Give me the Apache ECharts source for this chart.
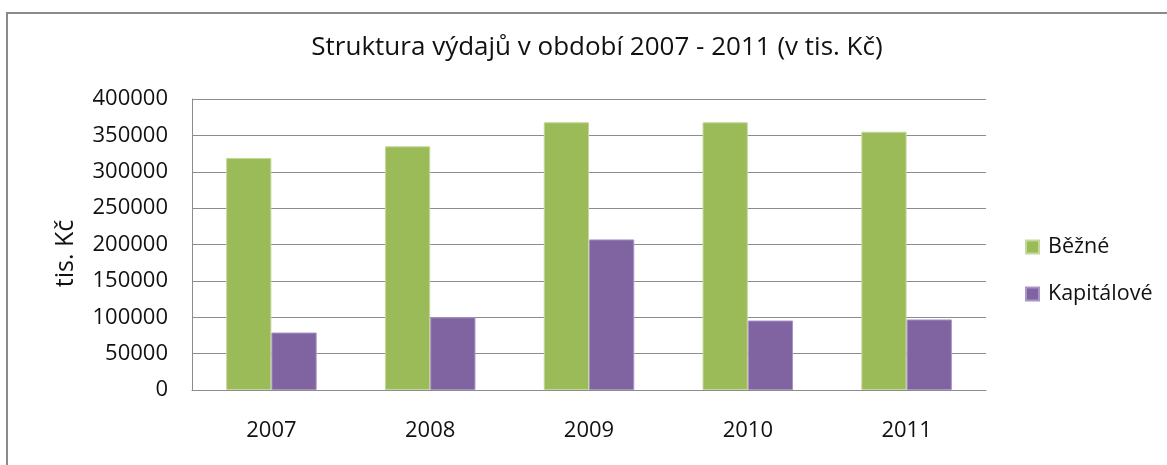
<!DOCTYPE html>
<html>
<head>
<meta charset="utf-8">
<script src="https://cdn.jsdelivr.net/npm/echarts@6/dist/echarts.min.js"></script>
<style>
  html, body { margin: 0; padding: 0; background: #fff; overflow: hidden; }
  #frame { position: absolute; left: 6px; top: 12px; width: 1200px; height: 500px;
           border-left: 2px solid #8a8a8a; border-top: 2px solid #8a8a8a; }
  #chart { position: absolute; left: 0; top: 0; width: 1167px; height: 465px; }
</style>
</head>
<body>
<div id="frame"></div>
<div id="chart"></div>
<script>
const years = ['2007', '2008', '2009', '2010', '2011']
const bezne = [319000, 335000, 368000, 368000, 355000]
const kapitalove = [79000, 100000, 207000, 95500, 97000]
const yTicks = { min: 0, max: 400000, interval: 50000 }

const font = "'Open Sans', 'Noto Sans', sans-serif"
const gridColor = '#8c8c8c'

const chart = echarts.init(document.getElementById('chart'))
chart.setOption({
  animation: false,
  textStyle: { fontFamily: font },
  title: {
    text: 'Struktura výdajů v období 2007 - 2011 (v tis. Kč)',
    left: 592,
    textAlign: 'center',
    top: 30,
    textStyle: { fontFamily: font, fontSize: 26, fontWeight: 'normal', color: '#111' }
  },
  legend: {
    orient: 'vertical',
    left: 1025,
    top: 234,
    padding: 0,
    itemWidth: 13,
    itemHeight: 13,
    itemGap: 21,
    icon: 'rect',
    textStyle: { fontFamily: font, fontSize: 21.5, color: '#111', lineHeight: 26, padding: [0, 0, 0, 4] },
    data: ['Běžné', 'Kapitálové']
  },
  grid: { left: 192, right: 181, top: 99, bottom: 75 },
  xAxis: {
    type: 'category',
    data: years,
    axisLine: { lineStyle: { color: gridColor, width: 1 } },
    axisTick: { show: false },
    axisLabel: { margin: 30, fontSize: 22, color: '#111', fontFamily: font }
  },
  yAxis: {
    type: 'value',
    min: yTicks.min,
    max: yTicks.max,
    interval: yTicks.interval,
    name: 'tis. Kč',
    nameLocation: 'middle',
    nameGap: 114,
    nameTextStyle: { fontSize: 25, color: '#111', fontFamily: font, padding: [0, 0, 0, -18] },
    axisLine: { show: true, lineStyle: { color: gridColor, width: 1 } },
    axisTick: { show: false },
    splitLine: { lineStyle: { color: gridColor, width: 1 } },
    axisLabel: { margin: 24, fontSize: 22, color: '#111', fontFamily: font, formatter: v => String(v) }
  },
  series: [
    {
      name: 'Běžné',
      type: 'bar',
      data: bezne,
      barGap: '0%',
      barCategoryGap: '43%',
      itemStyle: { color: '#9bbb59', borderColor: '#c4d89c', borderWidth: 1 }
    },
    {
      name: 'Kapitálové',
      type: 'bar',
      data: kapitalove,
      itemStyle: { color: '#8064a2', borderColor: '#a994c4', borderWidth: 1 }
    }
  ]
})
</script>
</body>
</html>
